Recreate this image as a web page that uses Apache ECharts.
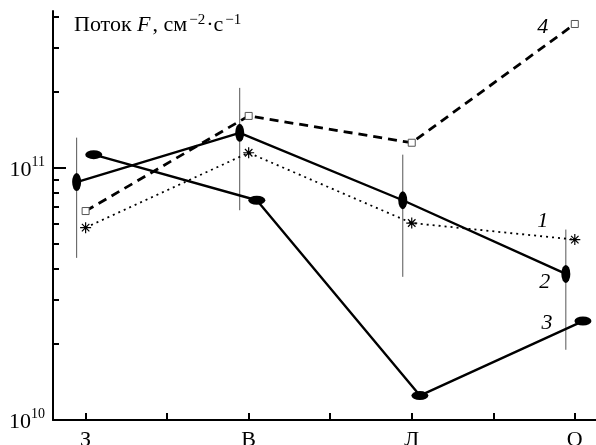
<!DOCTYPE html>
<html>
<head>
<meta charset="utf-8">
<script src="https://cdn.jsdelivr.net/npm/echarts@6/dist/echarts.min.js"></script>
<style>
  html, body { margin: 0; padding: 0; background: #fff; }
  #main { width: 596px; height: 445px; }
</style>
</head>
<body>
<div id="main"></div>
<script>
// сезоны
const seasons = ['З', 'В', 'Л', 'О'];

// поток F, см^-2 с^-1
const flux1 = [5.8e10, 1.15e11, 6.05e10, 5.2e10];   // пунктир, звёздочки
const flux2 = [8.8e10, 1.38e11, 7.45e10, 3.8e10];   // сплошная, вертикальные эллипсы
const flux3 = [1.13e11, 7.45e10, 1.25e10, 2.47e10]; // сплошная, горизонтальные эллипсы
const flux4 = [6.75e10, 1.61e11, 1.26e11, 3.73e11]; // штрих, квадраты

// разброс для кривой 2
const err2Low = [4.4e10, 6.8e10, 3.7e10, 1.9e10];
const err2High = [1.32e11, 2.08e11, 1.13e11, 5.7e10];

const yMinorTicks = [2e10, 3e10, 4e10, 5e10, 6e10, 7e10, 8e10, 9e10, 2e11, 3e11, 4e11];
const yMajorTicks = [1e10, 1e11];
const xTicks = [0, 0.5, 1, 1.5, 2, 2.5, 3];

const serif = 'Liberation Serif';
const ellipse = 'path://M0 10A10 10 0 1 1 20 10A10 10 0 1 1 0 10Z';
const star = 'path://M5 0L5 10M0 5L10 5M1.6 1.6L8.4 8.4M1.6 8.4L8.4 1.6';

// небольшой сдвиг точек 2 и 3 влево/вправо от метки сезона
const toPoints = (vals, shift) => vals.map((v, i) => [i + shift, v]);

const numLabel = (text, offset) => ({
    show: true,
    position: 'inside',
    offset: offset,
    formatter: text,
    fontFamily: serif,
    fontStyle: 'italic',
    fontSize: 22,
    color: '#000'
});

const withLastLabel = (pts, text, offset) => pts.map((p, i) =>
    i === pts.length - 1 ? { value: p, label: numLabel(text, offset) } : p);

const chart = echarts.init(document.getElementById('main'));

chart.setOption({
    animation: false,
    grid: { left: 53, right: 0, top: 11, bottom: 25, outerBoundsMode: 'none', containLabel: false },
    graphic: [{
        type: 'text',
        left: 74,
        top: 13,
        style: {
            text: '{n|Поток }{i|F}{n|, см}{s|−2}{n|·с}{s|−1}',
            rich: {
                n: { fontFamily: serif, fontSize: 22, color: '#000' },
                i: { fontFamily: serif, fontSize: 22, fontStyle: 'italic', color: '#000', padding: [0, 2, 0, 0] },
                s: { fontFamily: serif, fontSize: 15, color: '#000', verticalAlign: 'top', padding: [0, 1, 10, 2] }
            }
        }
    }],
    xAxis: {
        type: 'value',
        min: -0.2,
        max: 3.13,
        splitLine: { show: false },
        axisLine: { onZero: false, lineStyle: { color: '#000', width: 2 } },
        axisTick: { inside: true, length: 7, customValues: xTicks, lineStyle: { color: '#000', width: 2 } },
        axisLabel: {
            customValues: [0, 1, 2, 3],
            formatter: (v) => seasons[Math.round(v)],
            margin: 9,
            fontFamily: serif,
            fontSize: 22,
            color: '#000'
        }
    },
    yAxis: [{
        type: 'log',
        min: 1e10,
        max: 4.2e11,
        splitLine: { show: false },
        axisLine: { onZero: false, lineStyle: { color: '#000', width: 2 } },
        axisTick: { inside: true, length: 6, customValues: yMinorTicks, lineStyle: { color: '#000', width: 2 } },
        axisLabel: { show: false }
    }, {
        type: 'log',
        position: 'left',
        min: 1e10,
        max: 4.2e11,
        splitLine: { show: false },
        axisLine: { show: false, onZero: false },
        axisTick: { inside: true, length: 13, customValues: yMajorTicks, lineStyle: { color: '#000', width: 2 } },
        axisLabel: {
            customValues: yMajorTicks,
            margin: 8,
            formatter: (v) => '{b|10}{s|' + Math.round(Math.log10(v)) + '}',
            rich: {
                b: { fontFamily: serif, fontSize: 22, color: '#000', padding: [4, 0, 0, 0] },
                s: { fontFamily: serif, fontSize: 14, color: '#000', verticalAlign: 'top', padding: [0, 0, 10, 0] }
            }
        }
    }],
    series: [
        {
            // вертикальные отрезки разброса
            type: 'custom',
            z: 1,
            silent: true,
            data: err2Low.map((lo, i) => [i - 0.055, lo, err2High[i]]),
            renderItem: (params, api) => {
                const a = api.coord([api.value(0), api.value(1)]);
                const b = api.coord([api.value(0), api.value(2)]);
                return {
                    type: 'line',
                    shape: { x1: a[0], y1: a[1], x2: b[0], y2: b[1] },
                    style: { stroke: '#555', lineWidth: 1 }
                };
            }
        },
        {
            name: '1',
            type: 'line',
            z: 3,
            data: withLastLabel(toPoints(flux1, 0), '1', [-32, -18]),
            symbol: star,
            symbolSize: 11,
            itemStyle: { color: '#000', borderColor: '#000', borderWidth: 1.2 },
            lineStyle: { color: '#000', width: 1.8, type: [2, 4] }
        },
        {
            name: '2',
            type: 'line',
            z: 4,
            data: withLastLabel(toPoints(flux2, -0.055), '2', [-21, 8]),
            symbol: ellipse,
            symbolKeepAspect: false,
            symbolSize: [9, 18],
            itemStyle: { color: '#000' },
            lineStyle: { color: '#000', width: 2.4 }
        },
        {
            name: '3',
            type: 'line',
            z: 4,
            data: withLastLabel(toPoints(flux3, 0.05), '3', [-36, 2]),
            symbol: ellipse,
            symbolKeepAspect: false,
            symbolSize: [17, 9],
            itemStyle: { color: '#000' },
            lineStyle: { color: '#000', width: 2.4 }
        },
        {
            name: '4',
            type: 'line',
            z: 3,
            data: withLastLabel(toPoints(flux4, 0), '4', [-32, 3]),
            symbol: 'rect',
            symbolSize: 7,
            itemStyle: { color: '#fff', borderColor: '#555', borderWidth: 1 },
            lineStyle: { color: '#000', width: 2.8, type: [9, 6] }
        }
    ]
});
</script>
</body>
</html>
